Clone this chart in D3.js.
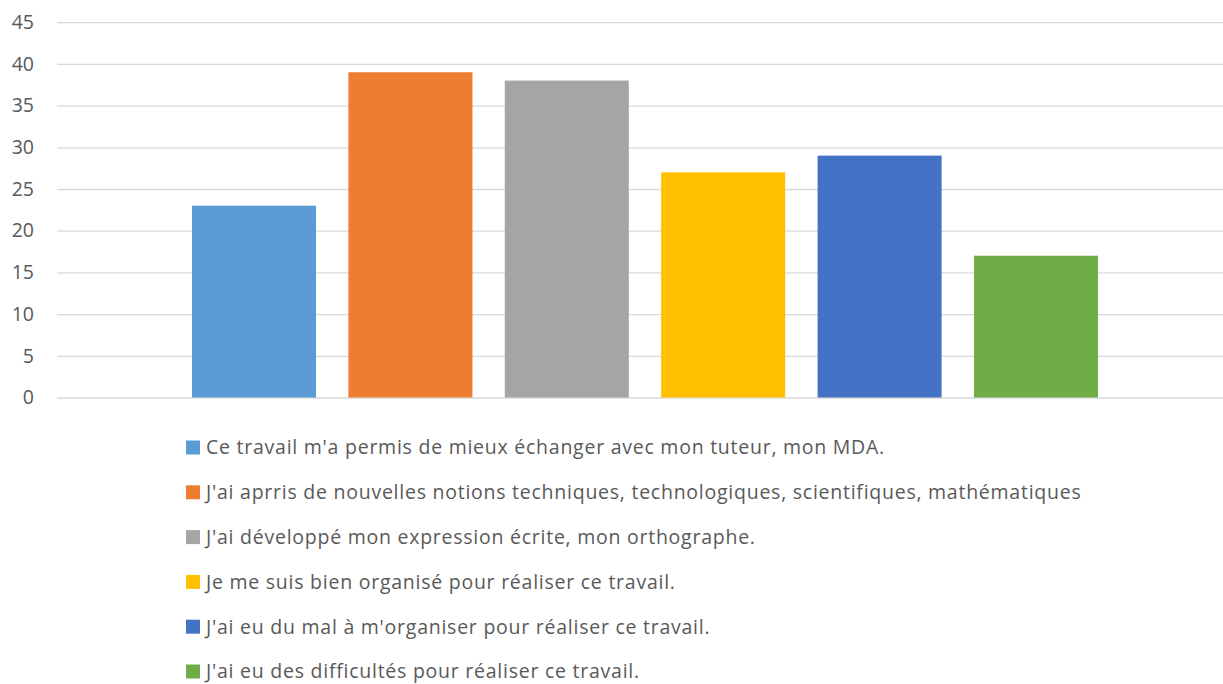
<!DOCTYPE html>
<html>
<head>
<meta charset="utf-8">
<script src="https://cdn.jsdelivr.net/npm/d3@7"></script>
<style>
  body { margin: 0; background: #fff; }
  svg text { font-family: "Open Sans", "Noto Sans", sans-serif; fill: #595959; }
</style>
</head>
<body>
<div class="d3-wrapper"></div>
<script>
const series = [
  "Ce travail m'a permis de mieux échanger avec mon tuteur, mon MDA.",
  "J'ai aprris de nouvelles notions techniques, technologiques, scientifiques, mathématiques",
  "J'ai développé mon expression écrite, mon orthographe.",
  "Je me suis bien organisé pour réaliser ce travail.",
  "J'ai eu du mal à m'organiser pour réaliser ce travail.",
  "J'ai eu des difficultés pour réaliser ce travail."
];
const values = [23, 39, 38, 27, 29, 17];
const colors = ["#5B9BD5", "#ED7D31", "#A5A5A5", "#FFC000", "#4472C4", "#70AD47"];
const yTicks = [0, 5, 10, 15, 20, 25, 30, 35, 40, 45];

const WIDTH = 1223, HEIGHT = 684;
const PLOT = { left: 57, right: 1223, top: 22.2, bottom: 397.5 };

const svg = d3.select('.d3-wrapper').append('svg')
  .attr('width', WIDTH)
  .attr('height', HEIGHT);

const xScale = d3.scaleBand()
  .domain(series)
  .range([192, 1098])
  .paddingInner(0.207)
  .paddingOuter(0);

const yScale = d3.scaleLinear()
  .domain([0, 45])
  .range([PLOT.bottom, PLOT.top]);

// gridlines + tick labels
const yAxis = d3.axisLeft(yScale)
  .tickValues(yTicks)
  .tickSize(-(PLOT.right - PLOT.left))
  .tickPadding(23)
  .tickFormat(d3.format('d'));

svg.append('g')
  .attr('transform', `translate(${PLOT.left}, 0)`)
  .call(yAxis)
  .call(g => g.select('.domain').remove())
  .call(g => g.selectAll('.tick line').attr('stroke', '#d9d9d9').attr('stroke-width', 1.3))
  .call(g => g.selectAll('.tick text').attr('font-size', 19.5).style('fill', '#595959'));

svg.append('g')
  .selectAll('rect')
  .data(values)
  .enter().append('rect')
  .attr('x', (d, i) => xScale(series[i]))
  .attr('y', d => yScale(d))
  .attr('width', xScale.bandwidth())
  .attr('height', d => yScale(0) - yScale(d))
  .attr('fill', (d, i) => colors[i]);

// legend, one row per series
const legend = svg.append('g')
  .attr('transform', 'translate(186, 447.5)');

const item = legend.selectAll('g')
  .data(series)
  .enter().append('g')
  .attr('transform', (d, i) => `translate(0, ${i * 44.8})`);

item.append('rect')
  .attr('x', 0)
  .attr('y', -7)
  .attr('width', 14)
  .attr('height', 14)
  .attr('fill', (d, i) => colors[i]);

item.append('text')
  .attr('x', 20)
  .attr('y', 0)
  .attr('dy', '0.35em')
  .attr('font-size', 19.5)
  .style('letter-spacing', '0.75px')
  .text(d => d);
</script>
</body>
</html>
